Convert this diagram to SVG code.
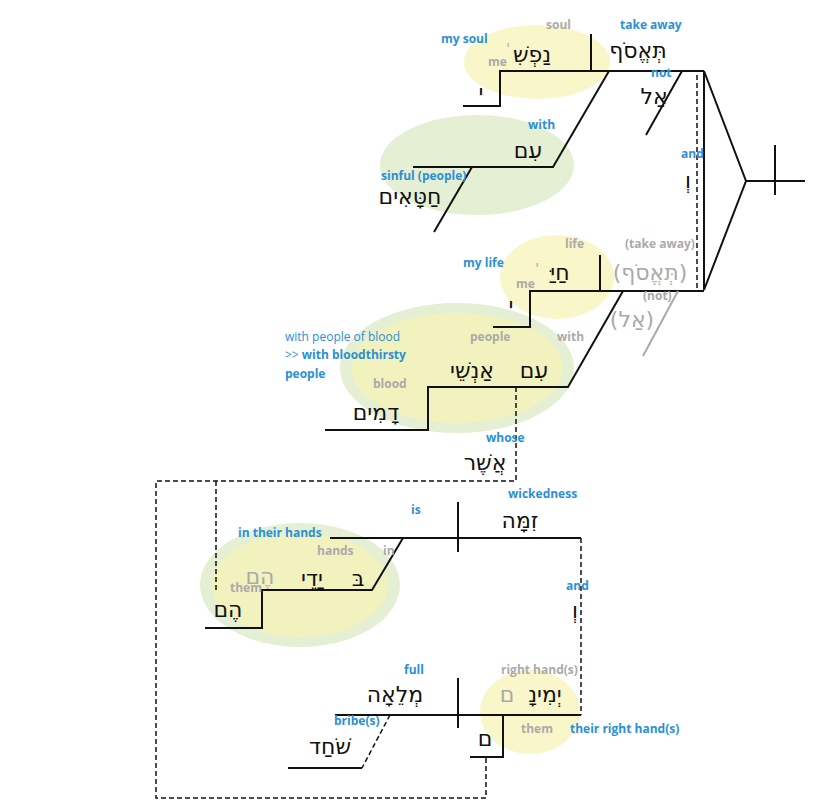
<svg xmlns="http://www.w3.org/2000/svg" width="825" height="812" viewBox="0 0 825 812">
<style>
.l{stroke:#111;stroke-width:2;fill:none}
.d{stroke:#111;stroke-width:1.5;fill:none;stroke-dasharray:5,3}
.g{stroke:#aaa;stroke-width:2;fill:none}
.b{font-family:"Open Sans",sans-serif;font-weight:bold;font-size:12px;fill:#2b8fd8}
.bn{font-family:"Open Sans",sans-serif;font-size:12px;fill:#2b8fd8}
.gr{font-family:"Open Sans",sans-serif;font-weight:bold;font-size:12px;fill:#aaa}
.h{font-family:"DejaVu Sans","Noto Sans",sans-serif;font-size:22px;fill:#111;text-anchor:middle}
.hg{font-family:"DejaVu Sans","Noto Sans",sans-serif;font-size:22px;fill:#aaa;text-anchor:middle}
.hs{font-family:"DejaVu Sans","Noto Sans",sans-serif;font-size:12px;fill:#aaa;text-anchor:middle}
.y{fill:#f7f3b8;opacity:.75}
.gn{fill:#dbeac4;opacity:.75}
</style>
<g id="highlights">
<ellipse class="y" cx="537" cy="62" rx="73" ry="37"/>
<ellipse class="gn" cx="477" cy="165" rx="97" ry="50"/>
<ellipse class="y" cx="557" cy="277" rx="57" ry="42"/>
<ellipse class="gn" cx="457" cy="368" rx="117" ry="65"/>
<ellipse class="y" cx="457" cy="368" rx="106" ry="55"/>
<ellipse class="gn" cx="300" cy="585" rx="100" ry="62"/>
<ellipse class="y" cx="300" cy="585" rx="88" ry="52"/>
<ellipse class="y" cx="530" cy="712" rx="50" ry="42"/>
</g>
<g id="connectors">
<path class="l" d="M463 106H500V71H704M591 34V71M609 71L553 167H413M472 167L434 232M682 71L646 135"/>
<path class="l" d="M704 71V290M704 71L746 181L704 290M746 181H805M775 145V195"/>
<path class="d" d="M697 75V288"/>
<path class="l" d="M493 327H530V291H704M600 255V291M623 291L568 387H428V430H325"/>
<path class="g" d="M678 291L643 356"/>
<path class="d" d="M516 387V481H156V798H486V757M216 481V590"/>
<path class="l" d="M330 538H581M458 502V552M403 538L372 590H262V628H205"/>
<path class="d" d="M581 538V715"/>
<path class="l" d="M335 715H581M458 678V728M503 715V757H470M288 768H362"/>
<path class="d" d="M390 715L362 768"/>
</g>
<g id="n1">
<text class="h" x="532" y="62">נַפְשִׁ</text><text class="hs" x="508" y="50">י</text><text class="gr" x="488" y="66">me</text><text class="h" x="481" y="100">י</text>
<text class="gr" x="546" y="29">soul</text><text class="b" x="441" y="43">my soul</text>
<text class="h" x="638" y="58">תְּאֱסֹף</text><text class="b" x="620" y="29">take away</text>
<text class="h" x="654" y="104">אַל</text><text class="b" x="651" y="77">not</text>
<text class="b" x="681" y="158">and</text><text class="h" x="688" y="188">וְ</text>
</g>
<g id="n2">
<text class="b" x="528" y="129">with</text><text class="h" x="528" y="158">עִם</text>
<text class="b" x="381" y="180">sinful (people)</text><text class="h" x="410" y="204">חַטָּאִים</text>
</g>
<g id="n3">
<text class="h" x="560" y="280">חַיַּ</text><text class="hs" x="537" y="270">י</text><text class="gr" x="516" y="288">me</text><text class="h" x="511" y="313">י</text>
<text class="gr" x="565" y="248">life</text><text class="b" x="463" y="267">my life</text>
<text class="hg" x="650" y="280">(תְּאֱסֹף)</text><text class="gr" x="625" y="248">(take away)</text>
<text class="gr" x="643" y="300">(not)</text><text class="hg" x="632" y="327">(אַל)</text>
</g>
<g id="n4">
<text class="gr" x="470" y="341">people</text><text class="gr" x="557" y="341">with</text><text class="gr" x="373" y="388">blood</text>
<text class="h" x="534" y="378">עִם</text><text class="h" x="472" y="378">אַנְשֵׁי</text><text class="h" x="376" y="420">דָמִים</text>
<text class="bn" x="285" y="341">with people of blood</text>
<text class="bn" x="285" y="359">&gt;&gt; <tspan font-weight="bold">with bloodthirsty</tspan></text>
<text class="b" x="285" y="378">people</text>
<text class="b" x="486" y="442">whose</text><text class="h" x="485" y="470">אֲשֶׁר</text>
</g>
<g id="n5">
<text class="b" x="411" y="514">is</text><text class="b" x="508" y="498">wickedness</text><text class="h" x="520" y="528">זִמָּה</text>
<text class="b" x="238" y="537">in their hands</text><text class="gr" x="317" y="555">hands</text><text class="gr" x="383" y="555">in</text>
<text class="h" x="358" y="586">בּ</text><text class="h" x="312" y="586">יָדֵי</text><text class="hg" x="260" y="584">הֶם</text><text class="gr" x="230" y="592">them</text>
<text class="h" x="228" y="617">הֶם</text>
<text class="b" x="566" y="590">and</text><text class="h" x="575" y="618">וְ</text>
</g>
<g id="n6">
<text class="b" x="404" y="674">full</text><text class="h" x="395" y="702">מְלֵאָה</text>
<text class="gr" x="501" y="674">right hand(s)</text><text class="h" x="545" y="702">יְמִינָ</text><text class="hg" x="507" y="702">ם</text>
<text class="gr" x="521" y="733">them</text><text class="b" x="570" y="733">their right hand(s)</text>
<text class="h" x="485" y="746">ם</text>
<text class="b" x="334" y="725">bribe(s)</text><text class="h" x="330" y="754">שֹׁחַד</text>
</g>
</svg>
